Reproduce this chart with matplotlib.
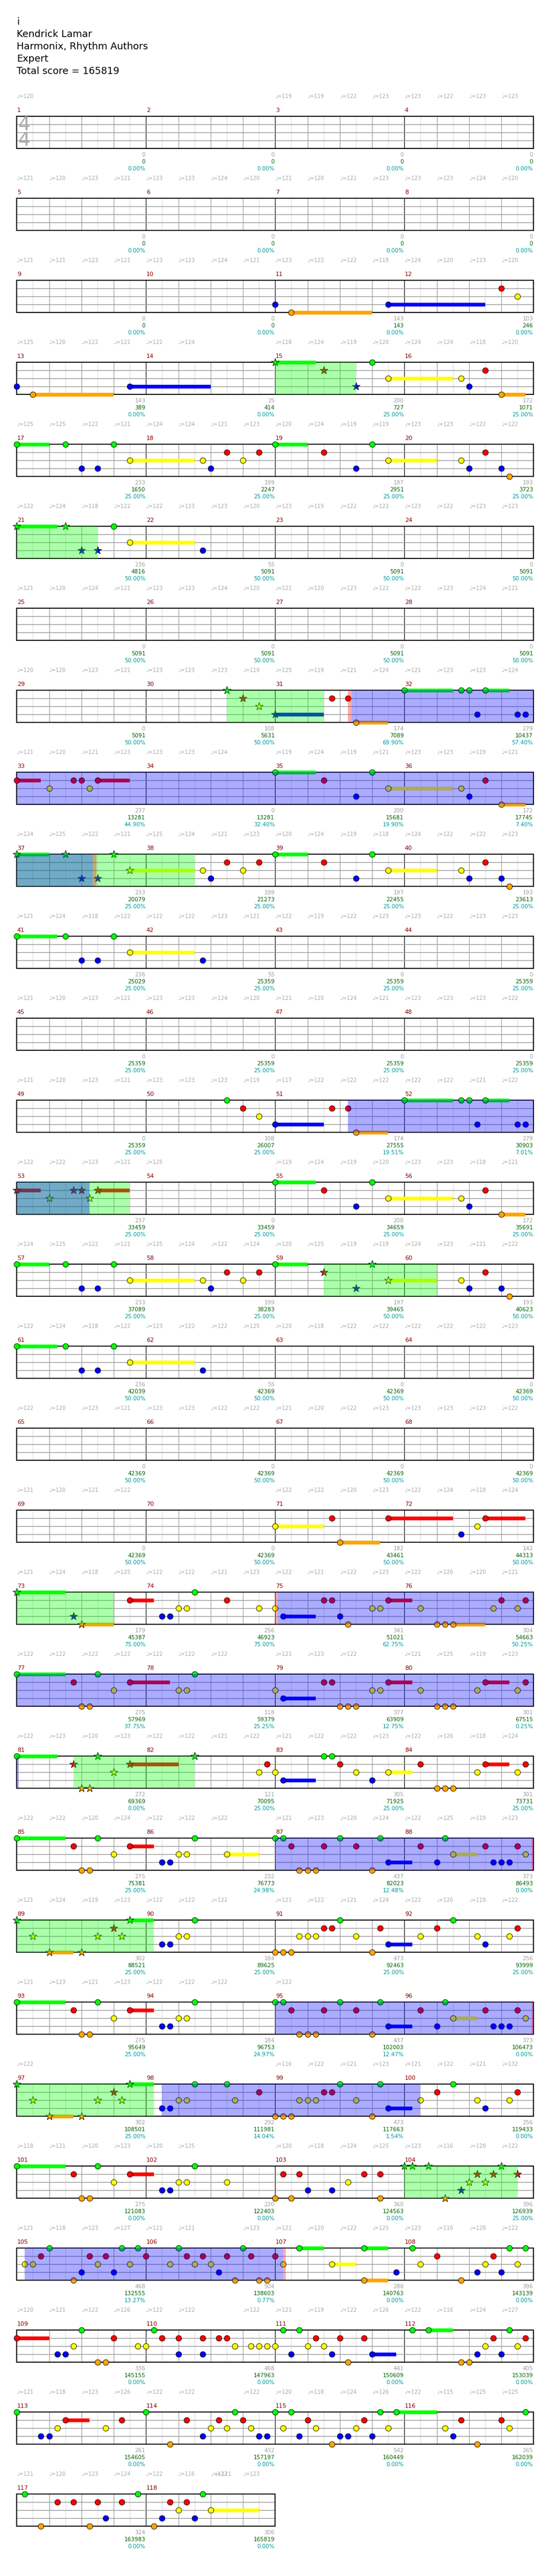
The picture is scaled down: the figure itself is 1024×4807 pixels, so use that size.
import matplotlib.pyplot as plt
from matplotlib.patches import Rectangle

title_lines = ["i", "Kendrick Lamar", "Harmonix, Rhythm Authors", "Expert", "Total score = 165819"]

G, R, Y, B, O = 0, 1, 2, 3, 4
_ = None

# tempo markings, one per beat of each row (None = no marking)
t001 = [120, _, _, _, _, _, _, _, 119, 119, 122, 123, 123, 122, 123, 123]
t005 = [121, 120, 123, 121, 123, 123, 124, 120, 121, 120, 122, 123, 123, 123, 124, 120]
t009 = [121, 121, 123, 121, 123, 123, 124, 121, 123, 122, 122, 119, 124, 120, 123, 120]
t013 = [125, 120, 122, 121, 122, 124, _, _, 118, 124, 119, 120, 124, 124, 118, 120]
t017 = [125, 125, 122, 121, 124, 124, 121, 123, 120, 124, 119, 119, 123, 123, 122, 122]
t021 = [122, 124, 118, 122, 122, 123, 123, 120, 123, 119, 122, 122, 123, 122, 123, 123]
t025 = [121, 120, 124, 121, 123, 123, 124, 120, 121, 120, 123, 122, 122, 123, 124, 121]
t029 = [120, 120, 123, 121, 123, 123, 123, 119, 125, 119, 121, 124, 121, 123, 123, 124]
t033 = [121, 120, 121, 123, 123, 123, 124, _, 119, 124, 119, 121, 123, 123, 119, 121]
t037 = [124, 125, 122, 121, 125, 124, 121, 123, 120, 124, 119, 118, 124, 122, 122, 123]
t041 = [121, 124, 118, 122, 122, 122, 123, 121, 122, 119, 122, 123, 123, 122, 123, 123]
t045 = [121, 120, 123, 121, 123, 123, 124, 120, 121, 120, 124, 121, 123, 123, 123, 122]
t049 = [121, 120, 123, 121, 123, 123, 123, 119, 117, 122, 122, 122, 122, 122, 121, 122]
t053 = [122, 122, 123, 121, 125, _, _, _, 119, 124, 119, 120, 123, 123, 118, 121]
t057 = [124, 125, 122, 121, 125, 124, 122, 124, 120, 125, 119, 119, 124, 123, 121, 122]
t061 = [122, 124, 118, 122, 123, 122, 122, 125, 120, 118, 122, 122, 122, 122, 122, 123]
t065 = [122, 120, 123, 121, 123, 123, 122, 122, 121, 120, 122, 123, 123, 123, 123, 122]
t069 = [121, 120, 121, 122, _, _, _, _, 122, 122, 120, 123, 122, 124, 118, 124]
t073 = [121, 124, 118, 125, 122, 122, 121, 123, 122, 121, 122, 123, 122, 126, 120, 121]
t077 = [122, 122, 122, 122, 122, 122, 122, _, 121, 123, 122, _, 121, 125, 119, 123]
t081 = [122, 123, 120, 123, 122, 122, 121, 122, 121, 122, 122, 123, 122, 126, 118, 124]
t085 = [122, 122, 120, 124, 122, 122, 122, _, 121, 123, 120, 124, 122, 125, 119, 123]
t089 = [121, 124, 119, 123, 122, 122, 122, _, 121, 122, 121, 124, 122, 126, 119, 122]
t093 = [121, 123, 121, 123, 122, 122, 122, _, 122, _, _, _, _, _, _, _]
t097 = [122, _, _, _, _, _, _, _, 116, 122, 121, 123, 121, 122, 121, 132]
t101 = [118, 121, 120, 123, 120, 125, _, _, 120, 118, 124, 125, 123, 116, 128, 122]
t105 = [121, 118, 123, 127, 121, 121, _, 123, 121, 120, 122, 125, 123, 116, 128, 122]
t109 = [120, 121, 122, 126, 122, 122, _, 122, 121, 119, 122, 126, 122, 116, 124, 127]
t113 = [121, 118, 123, 126, 122, 122, _, 122, 120, 118, 124, 126, 122, 115, 125, 125]
t117 = [121, 120, 123, 124, 122, 116, 122, 123]
extra_tempo = [(29, 6.12, 121)]
tempo_rows = [t001, t005, t009, t013, t017, t021, t025, t029, t033, t037, t041, t045,
              t049, t053, t057, t061, t065, t069, t073, t077, t081, t085, t089, t093,
              t097, t101, t105, t109, t113, t117]

measure_score = [0, 0, 0, 0, 0, 0, 0, 0, 0, 0, 143, 103,
                 143, 25, 200, 172, 233, 199, 197, 193, 236, 55, 0, 0,
                 0, 0, 0, 0, 0, 108, 174, 279, 237, 0, 200, 172,
                 233, 199, 197, 193, 236, 55, 0, 0, 0, 0, 0, 0,
                 0, 108, 174, 279, 237, 0, 200, 172, 233, 199, 197, 193,
                 236, 55, 0, 0, 0, 0, 0, 0, 0, 0, 182, 142,
                 179, 256, 341, 304, 275, 118, 377, 301, 272, 121, 305, 301,
                 275, 232, 437, 373, 302, 184, 473, 256, 275, 184, 437, 373,
                 302, 292, 473, 256, 275, 220, 360, 396, 468, 504, 288, 396,
                 336, 468, 441, 405, 261, 432, 542, 265, 324, 306]

total_score = [0, 0, 0, 0, 0, 0, 0, 0, 0, 0, 143, 246,
               389, 414, 727, 1071, 1650, 2247, 2951, 3723, 4816, 5091, 5091, 5091,
               5091, 5091, 5091, 5091, 5091, 5631, 7089, 10437, 13281, 13281, 15681, 17745,
               20079, 21273, 22455, 23613, 25029, 25359, 25359, 25359, 25359, 25359, 25359, 25359,
               25359, 26007, 27555, 30903, 33459, 33459, 34659, 35691, 37089, 38283, 39465, 40623,
               42039, 42369, 42369, 42369, 42369, 42369, 42369, 42369, 42369, 42369, 43461, 44313,
               45387, 46923, 51021, 54663, 57969, 59379, 63909, 67515, 69369, 70095, 71925, 73731,
               75381, 76773, 82023, 86493, 88521, 89625, 92463, 93999, 95649, 96753, 102003, 106473,
               108501, 111981, 117663, 119433, 121083, 122403, 124563, 126939, 132555, 138603, 140763, 143139,
               145155, 147963, 150609, 153039, 154605, 157197, 160449, 162039, 163983, 165819]

sp_meter = [0.0] * 14 + [25.0] * 6 + [50.0] * 10 + [69.90, 57.40, 44.90, 32.40, 19.90, 7.40] + \
           [25.0] * 12 + [25.0, 25.0, 19.51, 7.01] + [25.0] * 6 + [50.0] * 14 + \
           [75.0, 75.0, 62.75, 50.25, 37.75, 25.25, 12.75, 0.25, 0.0, 25.0, 25.0, 25.0,
            25.0, 24.98, 12.48, 0.0, 25.0, 25.0, 25.0, 25.0, 25.0, 24.97, 12.47, 0.0,
            25.0, 14.04, 1.54, 0.0, 0.0, 0.0, 0.0, 25.0, 13.27, 0.77, 0.0, 0.0] + [0.0] * 10

# notes: (beat in row, lane, sustain beats, star)
row_m09 = [(8, B), (8.5, O, 2.5), (11.5, B, 3), (15, R), (15.5, Y)]
row_m13 = [(0, B), (0.5, O, 2.5), (3.5, B, 2.5), (8, G, 1.25, 1), (9.5, R, 0, 1), (10.5, B, 0, 1),
           (11, G), (11.5, Y, 2), (13.75, Y), (14, B), (14.5, R), (15, O, 0.75)]
row_m17 = [(0, G, 1), (1.5, G), (2, B), (2.5, B), (3, G), (3.5, Y, 2), (5.75, Y), (6, B), (6.5, R),
           (7, Y), (7.5, R), (8, G, 1), (9.5, R), (10.5, B), (11, G), (11.5, Y, 1.5), (13.75, Y),
           (14, B), (14.5, R), (15, B), (15.25, O)]
row_m21 = [(0, G, 1.25, 1), (1.5, G, 0, 1), (2, B, 0, 1), (2.5, B, 0, 1), (3, G), (3.5, Y, 2), (5.75, B)]
row_m29 = [(6.5, G, 0, 1), (7, R, 0, 1), (7.5, Y, 0, 1), (8, B, 1.5, 1), (9.75, R), (10.25, R),
           (10.5, O, 1), (12, G, 1.5), (13.75, G), (14, G), (14.25, B), (14.5, G, 0.75),
           (15.5, B), (15.75, B)]
row_m33 = [(0, R, 0.75), (1, Y), (1.75, R), (2, R), (2.25, Y), (2.5, R, 1), (8, G, 1.25), (9.5, R),
           (10.5, B), (11, G), (11.5, Y, 2), (13.75, Y), (14, B), (14.5, R), (15, O, 0.75)]
row_m37 = [(0, G, 1, 1), (1.5, G, 0, 1), (2, B, 0, 1), (2.5, B, 0, 1), (3, G, 0, 1), (3.5, Y, 2, 1),
           (5.75, Y), (6, B), (6.5, R), (7, Y), (7.5, R), (8, G, 1), (9.5, R), (10.5, B), (11, G),
           (11.5, Y, 1.5), (13.75, Y), (14, B), (14.5, R), (15, B), (15.25, O)]
row_m41 = [(0, G, 1.25), (1.5, G), (2, B), (2.5, B), (3, G), (3.5, Y, 2), (5.75, B)]
row_m49 = [(6.5, G), (7, R), (7.5, Y), (8, B, 1.5), (9.75, R), (10.25, R), (10.5, O, 1), (12, G, 1.5),
           (13.75, G), (14, G), (14.25, B), (14.5, G, 0.75), (15.5, B), (15.75, B)]
row_m53 = [(0, R, 0.75, 1), (1, Y, 0, 1), (1.75, R, 0, 1), (2, R, 0, 1), (2.25, Y, 0, 1), (2.5, R, 1, 1),
           (8, G, 1.25), (9.5, R), (10.5, B), (11, G), (11.5, Y, 2), (13.75, Y), (14, B), (14.5, R),
           (15, O, 0.75)]
row_m57 = [(0, G, 1), (1.5, G), (2, B), (2.5, B), (3, G), (3.5, Y, 2), (5.75, Y), (6, B), (6.5, R),
           (7, Y), (7.5, R), (8, G, 1), (9.5, R, 0, 1), (10.5, B, 0, 1), (11, G, 0, 1), (11.5, Y, 1.5, 1),
           (13.75, Y), (14, B), (14.5, R), (15, B), (15.25, O)]
row_m61 = [(0, G, 1.25), (1.5, G), (2, B), (2.5, B), (3, G), (3.5, Y, 2), (5.75, B)]
row_m69 = [(8, Y, 1.5), (9.75, R), (10, O, 1.25), (11.5, R, 2), (13.75, B), (14.25, Y), (14.5, R, 1.25)]
row_m73 = [(0, G, 1.5, 1), (1.75, B, 0, 1), (2, O, 1, 1), (3.5, R, 0.75), (4.5, B), (4.75, B), (5, Y),
           (5.25, Y), (5.5, G), (6.5, R), (7.5, Y), (8, Y), (8.25, B, 1), (9.5, R), (9.75, R), (10, B),
           (10.25, O), (11, Y), (11.25, Y), (11.5, R, 0.75), (12.5, Y), (13, O), (13.25, O), (13.5, O, 1),
           (14.75, Y), (15, R), (15.5, Y), (15.75, R)]
row_m77 = [(0, G, 1.5), (1.75, R), (2, O), (2.25, O), (2.5, G), (3, Y), (3.5, R, 1.25), (5, Y), (5.25, Y),
           (5.5, G), (8, Y), (8.25, B, 1), (9.5, R), (9.75, R), (10, O), (10.25, O), (10.5, O), (11, Y),
           (11.25, Y), (11.5, R, 0.75), (12.5, Y), (13, O), (13.25, O), (13.5, O), (14.25, Y),
           (14.5, R, 0.75), (15.5, Y), (15.75, R)]
row_m81 = [(0, G, 1.25), (1.75, R, 0, 1), (2, O, 0, 1), (2.25, O, 0, 1), (2.5, G, 0, 1), (3, Y, 0, 1),
           (3.5, R, 1.5, 1), (5.5, G, 0, 1), (7.5, Y), (7.75, R), (8, Y), (8.25, B, 1), (9.5, G), (9.75, G),
           (10, R), (10.5, Y), (11, B), (11.5, Y, 0.75), (12.5, R), (13, O), (13.25, O), (13.5, O),
           (14.25, Y), (14.5, R, 0.75), (15.5, Y), (15.75, R)]
row_m85 = [(0, G, 1.5), (1.75, R), (2, O), (2.25, O), (2.5, G), (3, Y), (3.5, R, 0.75), (4.5, B), (4.75, B),
           (5, Y), (5.25, Y), (5.5, G), (6.5, Y, 1), (8, G), (8.25, G), (8.5, R), (8.75, O), (9, O),
           (9.25, O), (9.5, R), (10, G), (10.5, R), (11, O), (11.25, G), (11.5, B, 0.75), (12.5, R),
           (13, B), (13.25, G), (13.5, Y, 0.75), (14.5, R), (14.75, B), (15, B), (15.25, B), (15.5, R),
           (15.75, Y)]
row_m89 = [(0, G, 0, 1), (0.5, Y, 0, 1), (1, O, 0.75, 1), (2, O, 0, 1), (2.5, Y, 0, 1), (3, R, 0, 1),
           (3.25, Y, 0, 1), (3.5, G, 0.75, 1), (4.5, B), (4.75, B), (5, Y), (5.25, Y), (5.5, G), (8, O),
           (8.25, O), (8.5, O), (8.75, Y), (9, Y), (9.25, Y), (9.5, R), (9.75, R), (10, G), (10.5, Y),
           (11, O), (11.25, R), (11.5, B, 0.75), (12.5, Y), (13, R), (13.5, G), (14.25, Y), (14.5, B),
           (15.25, Y), (15.5, R)]
row_m93 = [(0, G, 1.5), (1.75, R), (2, O), (2.25, O), (2.5, G), (3, Y), (3.5, R, 0.75), (4.5, B), (4.75, B),
           (5, Y), (5.25, Y), (5.5, G), (8, G), (8.25, G), (8.5, R), (8.75, O), (9, O), (9.25, O), (9.5, R),
           (10, G), (10.5, R), (11, O), (11.25, G), (11.5, B, 0.75), (12.5, R), (13, B), (13.25, G),
           (13.5, Y, 0.75), (14.5, R), (14.75, B), (15, B), (15.25, B), (15.5, R), (15.75, Y)]
row_m97 = [(0, G, 0, 1), (0.5, Y, 0, 1), (1, O, 0.75, 1), (2, O, 0, 1), (2.5, Y, 0, 1), (3, R, 0, 1),
           (3.25, Y, 0, 1), (3.5, G, 0.75, 1), (4.5, B), (4.75, B), (5, Y), (5.25, Y), (5.5, G), (6.5, G),
           (6.75, Y), (7.5, R), (8, O), (8.25, O), (8.5, O), (8.75, Y), (9, Y), (9.25, Y), (9.5, R),
           (9.75, R), (10, G), (10.5, Y), (11, O), (11.25, G), (11.5, B, 0.75), (12.5, Y), (13, R),
           (13.5, G), (14.25, Y), (14.5, B), (15.25, Y), (15.5, R)]
row_m101 = [(0, G, 1.5), (1.75, R), (2, O), (2.25, O), (2.5, G), (3, Y), (3.5, R, 0.75), (4.5, B),
            (4.75, B), (5, Y), (5.25, Y), (5.5, G), (6.5, Y), (8, O), (8.25, R), (8.5, O), (8.75, R),
            (9, B), (9.75, B), (10.25, Y), (10.75, R), (11.25, R), (11.25, O), (12, G, 0, 1),
            (12.25, G, 0, 1), (12.75, G, 0, 1), (13.25, O, 0, 1), (13.75, B, 0, 1), (14, Y, 0, 1),
            (14.25, R, 0, 1), (14.5, Y, 0, 1), (14.75, R, 0, 1), (15, G, 0, 1), (15.5, R, 0, 1)]
row_m105 = [(0.25, Y), (0.5, Y), (0.75, R), (1, G), (1.75, O), (2, B), (2.25, R), (2.5, Y), (2.75, R),
            (3, B), (3.25, G), (3.5, Y), (3.75, G), (4, R), (4.75, Y), (5, G), (5.25, R), (5.5, Y),
            (5.75, R), (6, Y), (6.25, B), (6.5, R), (6.75, O), (7, G), (7.25, R), (7.5, O), (7.75, O),
            (8, R), (8.25, Y), (8.75, G, 0.75), (9.75, Y, 0.75), (10.75, G, 0.75), (10.75, O, 0.75),
            (11.75, B), (12.25, G), (12.5, Y), (13, R), (13.75, O), (14.25, B), (14.5, Y), (14.75, R),
            (15, B), (15.25, G), (15.5, Y), (15.75, G)]
row_m109 = [(0, R, 1), (1.25, B), (1.5, B), (1.75, Y), (2, G), (2.5, O), (2.75, O), (3, R), (3.75, Y),
            (4, Y), (4.25, G), (4.5, R), (5, R), (5, B), (5.75, R), (5.75, B), (6.25, R), (6.5, R),
            (6.75, Y), (7.25, Y), (7.5, Y), (7.75, Y), (8, Y), (8.25, G), (8.5, B), (8.75, G), (9, Y),
            (9.25, R), (9.5, Y), (9.75, B), (10, R), (10.25, O), (10.75, R), (11, B, 0.75), (12.25, G),
            (12.75, G, 0.75), (13.75, O), (14, O), (14.25, B), (14.5, Y), (14.75, R), (15, B),
            (15.25, G), (15.5, Y), (15.75, R)]
row_m113 = [(0, G), (0.75, B), (1, B), (1.25, Y), (1.5, R, 0.75), (2.75, Y), (3.25, R), (4, G), (4.75, O),
            (5.25, R), (5.75, B), (6, Y), (6.25, R), (6.5, Y), (6.75, G), (7, R), (7.25, Y), (7.5, B),
            (7.75, B), (8, G), (8.25, Y), (8.5, G), (8.75, B), (9, R), (9.25, Y), (9.75, O), (10, B),
            (10.25, B), (10.5, Y), (10.75, R), (11, B), (11.25, G), (11.5, Y), (11.75, G, 1.25),
            (13.25, Y), (13.5, B), (13.75, R), (14.25, O), (15, R), (15.25, Y), (15.75, G)]
row_m117 = [(0.25, G), (0.75, O), (1.25, R), (1.75, R), (2.25, O), (2.5, R), (2.75, B), (3.25, R),
            (3.75, G), (4.25, O), (4.5, B), (4.75, R), (5, Y), (5.25, R), (5.5, B), (5.75, G), (6, Y, 1.5)]

note_rows = {2: row_m09, 3: row_m13, 4: row_m17, 5: row_m21, 7: row_m29, 8: row_m33, 9: row_m37,
             10: row_m41, 12: row_m49, 13: row_m53, 14: row_m57, 15: row_m61, 17: row_m69,
             18: row_m73, 19: row_m77, 20: row_m81, 21: row_m85, 22: row_m89, 23: row_m93,
             24: row_m97, 25: row_m101, 26: row_m105, 27: row_m109, 28: row_m113, 29: row_m117}

# star power phrases / activations / activation marks, in song beats
sp_phrases = [(56, 58.5), (80, 82.5), (118.5, 121.5), (144, 149.5), (208, 211.5), (233.5, 237),
              (288, 291), (321.75, 325.5), (352, 356.25), (384, 388.25), (412, 415.5)]
activations = [(122.375, 146.36), (202.25, 210.25), (296.08, 320.06), (344, 352), (376, 384),
               (388.5, 396.5), (416.25, 424.25)]
act_marks = [(122.25, 122.375), (146.36, 146.47), (296, 296.08), (424.25, 424.32),
             (351.94, 352), (383.94, 384)]

n_measures = 118
lane_colors = ["#00ff00", "#ff0000", "#ffff00", "#0000ff", "#ffa500"]

LEFT = 31.3
MEAS_W = 241.0
BEAT_W = MEAS_W / 4
TOP0 = 217.3
PITCH = 153.0
LANE = 15.0
STAFF_H = 4 * LANE
n_rows = (n_measures + 3) // 4


def bx(beat):
    return LEFT + beat * BEAT_W


fig = plt.figure(figsize=(10.24, 48.07), dpi=100)
ax = fig.add_axes([0, 0, 1, 1])
ax.set_xlim(0, 1024)
ax.set_ylim(4807, 0)
ax.axis("off")

for i, line in enumerate(title_lines):
    ax.text(31, 41 + 23 * i, line, fontsize=13, va="center", ha="left", color="black")

for r in range(n_rows):
    T = TOP0 + r * PITCH
    nm = min(4, n_measures - 4 * r)
    # grid
    for k in range(nm * 8 + 1):
        x = bx(k / 2)
        if k % 8 == 0:
            color = "black"
        elif k % 2 == 0:
            color = "#999999"
        else:
            color = "#dddddd"
        ax.plot([x, x], [T, T + STAFF_H], color=color, lw=0.8, zorder=1)
    for ln in (1, 2, 3):
        ax.plot([bx(0), bx(nm * 4)], [T + ln * LANE] * 2, color="#999999", lw=1.0, zorder=1)
    ax.add_patch(Rectangle((bx(0), T), nm * MEAS_W, STAFF_H, fill=False, ec="black", lw=1.3, zorder=1.5))

    # tempo markings
    for b, t in enumerate(tempo_rows[r]):
        if t is not None:
            ax.text(bx(b), T - 37, "\u2669=%d" % t, fontsize=7, color="#a8a8a8", va="center", ha="left")

    # measure numbers and scores
    for j in range(nm):
        m = 4 * r + j
        ax.text(bx(4 * j) + 0.5, T - 11, str(m + 1), fontsize=8, color="#8b0000", va="center", ha="left")
        xe = bx(4 * j + 4) - 1
        ax.text(xe, T + 72, str(measure_score[m]), fontsize=7.5, color="#a0a0a0", va="center", ha="right")
        ax.text(xe, T + 85, str(total_score[m]), fontsize=7.5, color="#006400", va="center", ha="right")
        ax.text(xe, T + 98, "%.2f%%" % sp_meter[m], fontsize=7.5, color="#009a9a", va="center", ha="right")

    # notes
    for n in note_rows.get(r, []):
        beat, lane = n[0], n[1]
        sus = n[2] if len(n) > 2 else 0
        star = n[3] if len(n) > 3 else 0
        y = T + lane * LANE
        if sus > 0:
            ax.add_patch(Rectangle((bx(beat), y - 3.5), sus * BEAT_W, 7, color=lane_colors[lane], lw=0, zorder=2))
        if star:
            ax.scatter([bx(beat)], [y], s=120, marker="*", c=lane_colors[lane], edgecolors="black",
                       linewidths=0.6, zorder=3)
        else:
            ax.scatter([bx(beat)], [y], s=58, marker="o", c=lane_colors[lane], edgecolors="black",
                       linewidths=0.6, zorder=3)

for r, b, t in extra_tempo:
    ax.text(bx(b), TOP0 + r * PITCH - 37, "\u2669=%d" % t, fontsize=7, color="#a8a8a8", va="center", ha="left")

# time signature
ax.text(LEFT + 13, TOP0 + 16, "4", fontsize=26, color="#aaaaaa", ha="center", va="center", zorder=1.6)
ax.text(LEFT + 13, TOP0 + 45, "4", fontsize=26, color="#aaaaaa", ha="center", va="center", zorder=1.6)


def shade(spans, color):
    for s, e in spans:
        for r in range(n_rows):
            rs, re_ = 16 * r, 16 * r + 16
            a, b = max(s, rs), min(e, re_)
            if b > a:
                T = TOP0 + r * PITCH
                ax.add_patch(Rectangle((bx(a - rs), T), (b - a) * BEAT_W, STAFF_H, color=color,
                                       alpha=0.33, lw=0, zorder=5))


shade(sp_phrases, "#00ff00")
shade(activations, "#0000ff")
shade(act_marks, "#ff0000")

fig.savefig("out.png", dpi=100)
